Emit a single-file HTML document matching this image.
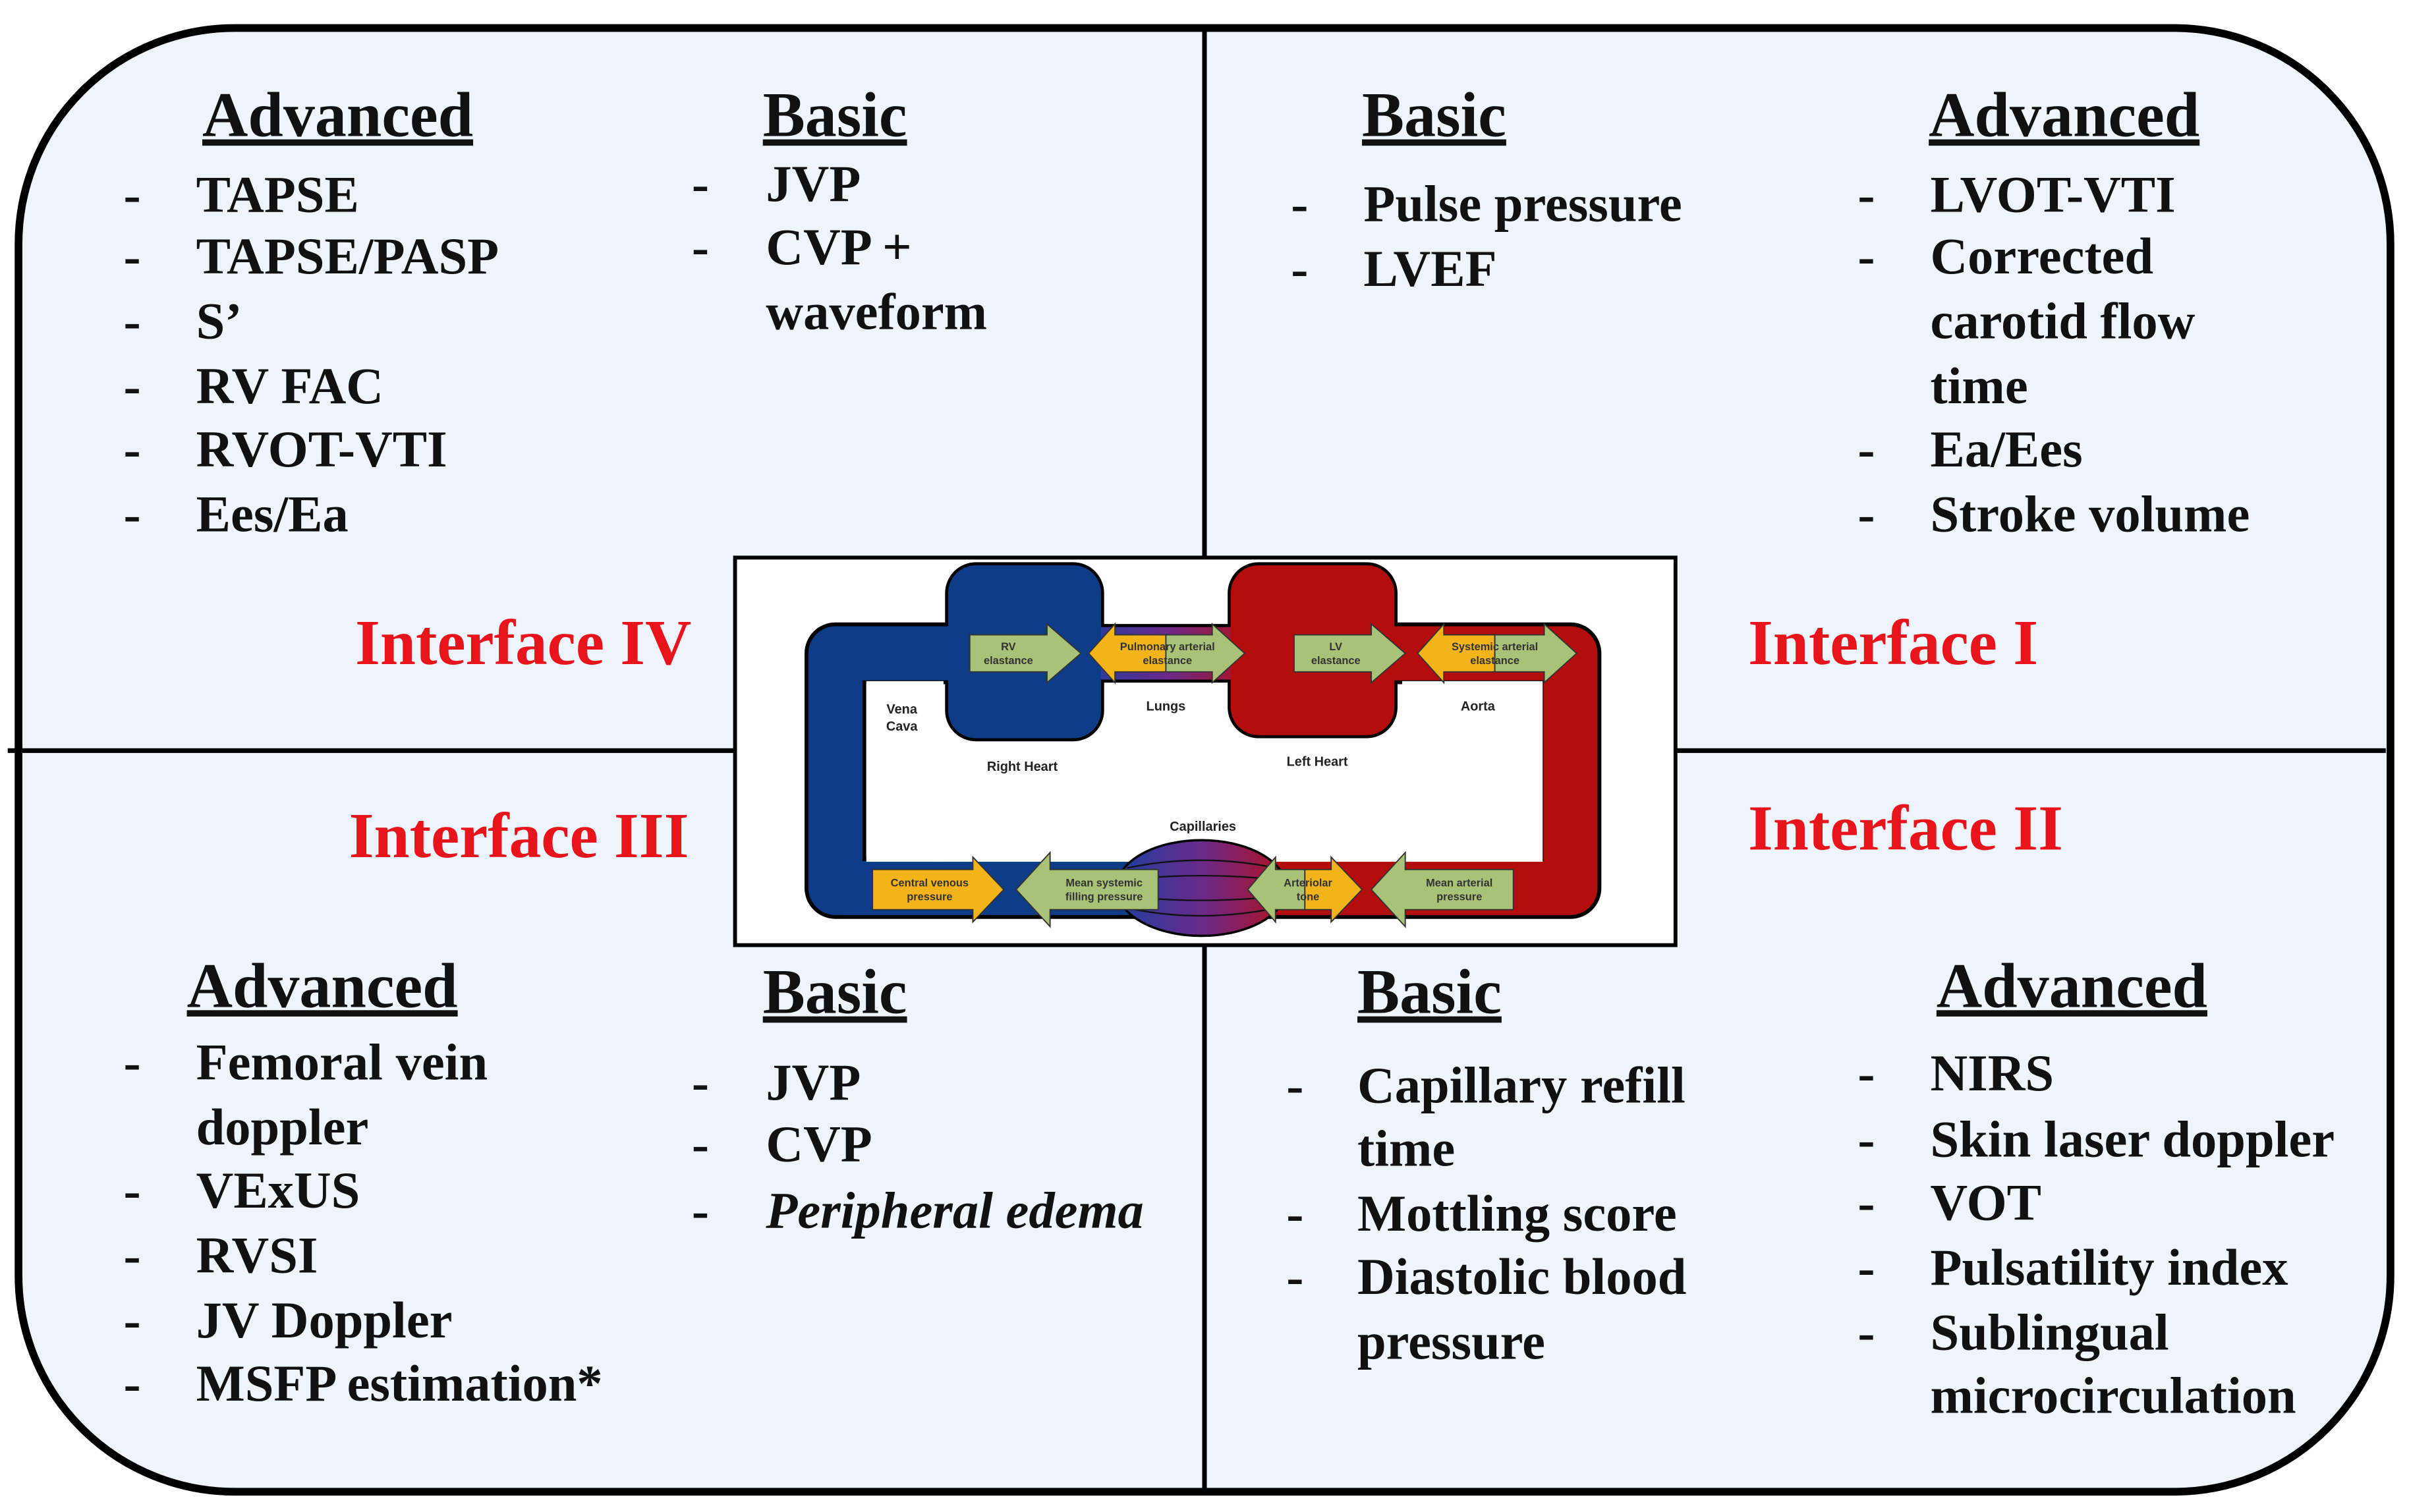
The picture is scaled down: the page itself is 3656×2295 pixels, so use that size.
<!DOCTYPE html>
<html><head><meta charset="utf-8"><style>
html,body{margin:0;padding:0;background:#fff;}
svg{display:block}
.t{font-family:"Liberation Serif",serif;font-weight:bold;font-size:33.5px;fill:#111}
.h{font-family:"Liberation Serif",serif;font-weight:bold;font-size:41px;fill:#111;text-decoration:underline}
.r{font-family:"Liberation Serif",serif;font-weight:bold;font-size:41.5px;fill:#e8141b}
.s{font-family:"Liberation Sans",sans-serif;font-weight:bold;font-size:8.5px;fill:#222;text-anchor:middle}
.a{font-family:"Liberation Sans",sans-serif;font-weight:bold;font-size:7px;fill:#333;text-anchor:middle}
</style></head><body>
<svg width="3656" height="2295" viewBox="0 0 1560 979" xmlns="http://www.w3.org/2000/svg">
<defs>
<linearGradient id="lg" x1="0" x2="1"><stop offset="0" stop-color="#1d3fa0"/><stop offset="0.5" stop-color="#6a2a8a"/><stop offset="1" stop-color="#b01020"/></linearGradient>
</defs>
<rect x="0" y="0" width="1560" height="979" fill="#fff"/>
<rect x="12" y="18" width="1536" height="948" rx="140" ry="140" fill="#eef4fb" stroke="#000" stroke-width="5"/>
<line x1="780" y1="18" x2="780" y2="966" stroke="#000" stroke-width="3"/>
<line x1="5" y1="486" x2="1545" y2="486" stroke="#000" stroke-width="3"/>

<!-- TL -->
<text class="h" x="131" y="88">Advanced</text>
<g class="t">
<text x="80" y="137">-</text><text x="127" y="137">TAPSE</text>
<text x="80" y="177">-</text><text x="127" y="177">TAPSE/PASP</text>
<text x="80" y="219">-</text><text x="127" y="219">S’</text>
<text x="80" y="261">-</text><text x="127" y="261">RV FAC</text>
<text x="80" y="302">-</text><text x="127" y="302">RVOT-VTI</text>
<text x="80" y="344">-</text><text x="127" y="344">Ees/Ea</text>
</g>
<text class="h" x="494" y="88">Basic</text>
<g class="t">
<text x="448" y="130">-</text><text x="496" y="130">JVP</text>
<text x="448" y="171">-</text><text x="496" y="171">CVP +</text>
<text x="496" y="213">waveform</text>
</g>
<!-- TR -->
<text class="h" x="882" y="88">Basic</text>
<g class="t">
<text x="836" y="143">-</text><text x="883" y="143">Pulse pressure</text>
<text x="836" y="185">-</text><text x="883" y="185">LVEF</text>
</g>
<text class="h" x="1249" y="88">Advanced</text>
<g class="t">
<text x="1203" y="137">-</text><text x="1250" y="137">LVOT-VTI</text>
<text x="1203" y="177">-</text><text x="1250" y="177">Corrected</text>
<text x="1250" y="219">carotid flow</text>
<text x="1250" y="261">time</text>
<text x="1203" y="302">-</text><text x="1250" y="302">Ea/Ees</text>
<text x="1203" y="344">-</text><text x="1250" y="344">Stroke volume</text>
</g>
<!-- interfaces -->
<text class="r" x="230" y="430">Interface IV</text>
<text class="r" x="1132" y="430">Interface I</text>
<text class="r" x="226" y="555">Interface III</text>
<text class="r" x="1132" y="550">Interface II</text>
<!-- BL -->
<text class="h" x="121" y="652">Advanced</text>
<g class="t">
<text x="80" y="699">-</text><text x="127" y="699">Femoral vein</text>
<text x="127" y="741">doppler</text>
<text x="80" y="782">-</text><text x="127" y="782">VExUS</text>
<text x="80" y="824">-</text><text x="127" y="824">RVSI</text>
<text x="80" y="866">-</text><text x="127" y="866">JV Doppler</text>
<text x="80" y="907">-</text><text x="127" y="907">MSFP estimation*</text>
</g>
<text class="h" x="494" y="656">Basic</text>
<g class="t">
<text x="448" y="712">-</text><text x="496" y="712">JVP</text>
<text x="448" y="752">-</text><text x="496" y="752">CVP</text>
<text x="448" y="795">-</text><text x="496" y="795" font-style="italic">Peripheral edema</text>
</g>
<!-- BR -->
<text class="h" x="879" y="656">Basic</text>
<g class="t">
<text x="833" y="714">-</text><text x="879" y="714">Capillary refill</text>
<text x="879" y="755">time</text>
<text x="833" y="797">-</text><text x="879" y="797">Mottling score</text>
<text x="833" y="838">-</text><text x="879" y="838">Diastolic blood</text>
<text x="879" y="880">pressure</text>
</g>
<text class="h" x="1254" y="652">Advanced</text>
<g class="t">
<text x="1203" y="706">-</text><text x="1250" y="706">NIRS</text>
<text x="1203" y="749">-</text><text x="1250" y="749">Skin laser doppler</text>
<text x="1203" y="790">-</text><text x="1250" y="790">VOT</text>
<text x="1203" y="832">-</text><text x="1250" y="832">Pulsatility index</text>
<text x="1203" y="874">-</text><text x="1250" y="874">Sublingual</text>
<text x="1250" y="915">microcirculation</text>
</g>

<!-- center diagram -->
<rect x="476" y="361" width="609" height="251" fill="#fff" stroke="#000" stroke-width="2.5"/>
<g fill="none" stroke="#000" stroke-linejoin="round">
<path d="M615 423 L541 423 L541 575 L760 575" stroke-width="40"/>
<path d="M900 423 L1017 423 L1017 575 L800 575" stroke-width="40"/>
<path d="M700 423 L810 423" stroke-width="38"/>
</g>
<rect x="612" y="364" width="103" height="116" rx="20" fill="#000"/>
<rect x="795" y="364" width="110" height="114" rx="20" fill="#000"/>
<g fill="none" stroke-linejoin="round">
<path d="M615 423 L541 423 L541 575 L760 575" stroke="#0e3c86" stroke-width="35"/>
<path d="M900 423 L1017 423 L1017 575 L800 575" stroke="#b30d0d" stroke-width="35"/>
</g>
<rect x="700" y="406" width="110" height="34" fill="url(#lg)"/>
<rect x="614" y="366" width="99" height="112" rx="18" fill="#0e3c86"/>
<rect x="797" y="366" width="106" height="110" rx="18" fill="#b30d0d"/>
<rect x="561" y="441" width="50" height="117" fill="#fff"/>
<rect x="908" y="441" width="91" height="117" fill="#fff"/>
<rect x="606" y="481" width="310" height="77" fill="#fff"/>
<ellipse cx="778" cy="575" rx="55" ry="31" fill="url(#lg)" stroke="#000" stroke-width="1.5"/>
<g fill="none" stroke="#111" stroke-width="1">
<path d="M730 562 Q778 552 826 562"/><path d="M726 570 Q778 564 830 570"/><path d="M726 580 Q778 586 830 580"/><path d="M730 588 Q778 598 826 588"/>
</g>
<g stroke="#333" stroke-width="0.8">
<polygon points="628,411 678,411 678,404 700,423 678,442 678,435 628,435" fill="#a8c277"/>
<polygon points="705,423 722,404 722,411 755,411 755,435 722,435 722,442" fill="#f3b41b"/>
<polygon points="755,411 785,411 785,404 806,423 785,442 785,435 755,435" fill="#a8c277"/>
<polygon points="838,411 888,411 888,404 910,423 888,442 888,435 838,435" fill="#a8c277"/>
<polygon points="918,423 935,404 935,411 968,411 968,435 935,435 935,442" fill="#f3b41b"/>
<polygon points="968,411 1000,411 1000,404 1021,423 1000,442 1000,435 968,435" fill="#a8c277"/>
<polygon points="565,563 630,563 630,555 650,576 630,597 630,589 565,589" fill="#f3b41b"/>
<polygon points="658,576 680,552 680,563 750,563 750,589 680,589 680,600" fill="#a8c277"/>
<polygon points="808,576 826,555 826,563 845,563 845,589 826,589 826,597" fill="#a8c277"/>
<polygon points="845,563 862,563 862,555 882,576 862,597 862,589 845,589" fill="#f3b41b"/>
<polygon points="888,576 910,552 910,563 980,563 980,589 910,589 910,600" fill="#a8c277"/>
</g>
<g class="a">
<text x="653" y="421">RV</text><text x="653" y="430">elastance</text>
<text x="756" y="421">Pulmonary arterial</text><text x="756" y="430">elastance</text>
<text x="865" y="421">LV</text><text x="865" y="430">elastance</text>
<text x="968" y="421">Systemic arterial</text><text x="968" y="430">elastance</text>
<text x="602" y="574">Central venous</text><text x="602" y="583">pressure</text>
<text x="715" y="574">Mean systemic</text><text x="715" y="583">filling pressure</text>
<text x="847" y="574">Arteriolar</text><text x="847" y="583">tone</text>
<text x="945" y="574">Mean arterial</text><text x="945" y="583">pressure</text>
</g>
<g class="s">
<text x="584" y="462">Vena</text><text x="584" y="473">Cava</text>
<text x="755" y="460">Lungs</text>
<text x="957" y="460">Aorta</text>
<text x="662" y="499">Right Heart</text>
<text x="853" y="496">Left Heart</text>
<text x="779" y="538">Capillaries</text>
</g>
</svg>
</body></html>
